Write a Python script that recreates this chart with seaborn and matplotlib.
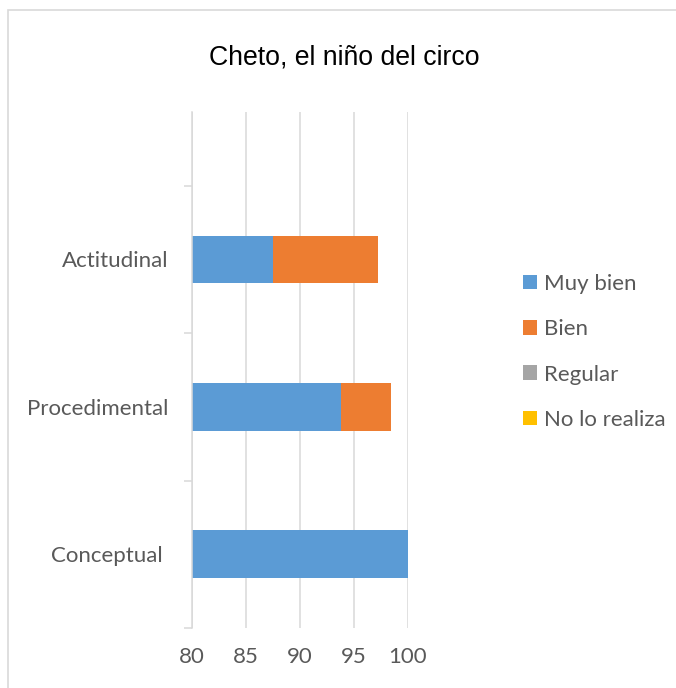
import matplotlib
matplotlib.use("Agg")
import matplotlib.pyplot as plt
import seaborn as sns
import pandas as pd
import numpy as np
from matplotlib.patches import Rectangle, Patch

# ---- data ----
categories = ["Actitudinal", "Procedimental", "Conceptual"]
tick_labels = ["Actitudinal", "Procedimental", "Conceptual "]
series_names = ["Muy bien", "Bien", "Regular", "No lo realiza"]
muy_bien = [87.5, 93.8, 100.0]
bien = [9.7, 4.6, 0.0]
regular = [0.0, 0.0, 0.0]
no_lo_realiza = [0.0, 0.0, 0.0]
colors = ["#5B9BD5", "#ED7D31", "#A5A5A5", "#FFC000"]
x_ticks = [80, 85, 90, 95, 100]
title = "Cheto, el niño del circo"

sns.set_theme(style="white")
plt.rcParams["font.family"] = ["Lato", "DejaVu Sans"]

W, H = 676, 688
fig = plt.figure(figsize=(W / 100, H / 100), dpi=100)
ax = fig.add_axes([192 / W, (H - 628) / H, (408 - 192) / W, (628 - 112) / H])

# outer border
fig.patches.append(Rectangle((8 / W, -0.1), 1.2, (H - 10) / H + 0.1,
                             transform=fig.transFigure, fill=False,
                             edgecolor="#D9D9D9", linewidth=1.2, zorder=0))

series = [muy_bien, bien, regular, no_lo_realiza]
cum = np.cumsum(np.array(series), axis=0)

# draw cumulative totals from the largest to the smallest (stacked look)
for i in range(len(series_names) - 1, -1, -1):
    d = pd.DataFrame({"cat": categories, "val": cum[i]})
    sns.barplot(data=d, x="val", y="cat", order=categories, orient="h",
                color=colors[i], width=0.323, linewidth=0, saturation=1,
                ax=ax, zorder=3)

ax.set_xlim(80, 100)
ax.set_ylim(2.5, -1.0)
ax.set_xticks(x_ticks)
ax.set_xticklabels([str(t) for t in x_ticks])
ax.set_yticks(range(len(categories)))
ax.set_yticklabels(tick_labels)
ax.set_yticks([-0.5, 0.5, 1.5, 2.5], minor=True)
ax.set_xlabel("")
ax.set_ylabel("")

grid_c = "#D9D9D9"
ax.grid(axis="x", color=grid_c, linewidth=1.1, zorder=0)
ax.grid(axis="y", visible=False)
for s in ["top", "right", "bottom"]:
    ax.spines[s].set_visible(False)
ax.spines["left"].set_color(grid_c)
ax.spines["left"].set_linewidth(1.1)
ax.spines["left"].set_zorder(4)

ax.tick_params(axis="x", length=0, pad=14, labelsize=16, labelcolor="#595959")
ax.tick_params(axis="y", which="major", length=0, pad=17, labelsize=16,
               labelcolor="#595959")
ax.tick_params(axis="y", which="minor", length=6, width=1.1, color=grid_c, left=True)

fig.text(344 / W, 1 - 57 / H, title, ha="center", va="center",
         fontsize=19.2, color="#000000", family=["Liberation Sans", "DejaVu Sans"])

handles = [Patch(facecolor=c, edgecolor="none", label=n) for c, n in zip(colors, series_names)]
leg = fig.legend(handles=handles, loc="upper left",
                 bbox_to_anchor=(514 / W, 1 - 265 / H), frameon=False,
                 fontsize=16, handlelength=0.64, handleheight=0.64,
                 handletextpad=0.3, labelspacing=1.14, borderaxespad=0)
for t in leg.get_texts():
    t.set_color("#595959")

fig.savefig("out.png", dpi=100)
